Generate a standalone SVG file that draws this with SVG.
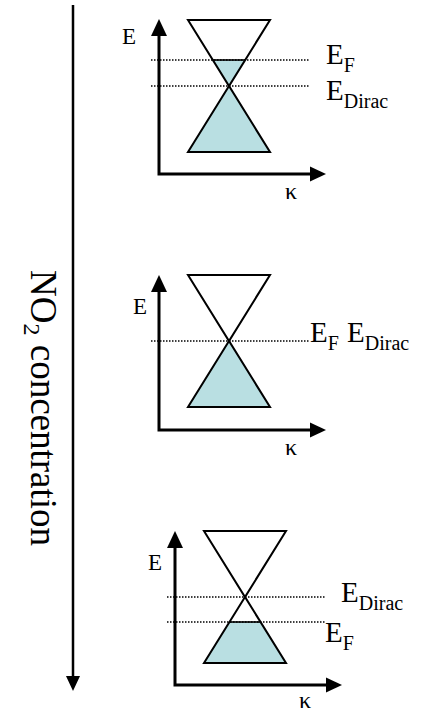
<svg xmlns="http://www.w3.org/2000/svg" width="435" height="713" viewBox="0 0 435 713">
<style>
  text { font-family: "Liberation Serif", "Times New Roman", "DejaVu Serif", serif; }
  .axis { fill: none; stroke: #000; stroke-width: 3; }
  .head { fill: #000; }
  .cone { fill: none; stroke: #000; stroke-width: 2; stroke-linejoin: miter; }
  .fill { fill: #b9dfe2; stroke: none; }
  .dot { stroke: #000; stroke-width: 1.3; stroke-dasharray: 1.5 1.5; fill: none; }
  .lvl { stroke: #000; stroke-width: 1.6; }
  .big { font-size: 29px; }
  .sub { font-size: 20px; }
  .ax { font-size: 23px; }
  .k { font-size: 24px; }
</style>
<rect width="435" height="713" fill="#fff"/>

<g id="connectors">
  <line x1="73" y1="5" x2="73" y2="677" stroke="#000" stroke-width="2.5"/>
  <polygon class="head" points="66,676 80,676 73,691"/>
</g>

<g id="concentration-label">
  <text transform="translate(30.7,270) rotate(90)" font-size="37">NO<tspan font-size="24" dy="7">2</tspan><tspan dy="-7"> concentration</tspan></text>
</g>

<g id="panel1">
  <polygon class="fill" points="188,152 270,152 229,86"/>
  <polygon class="fill" points="229,86 213,60 245,60"/>
  <line class="dot" x1="151" y1="60" x2="310" y2="60"/>
  <line class="dot" x1="151" y1="86" x2="310" y2="86"/>
  <line class="lvl" x1="213" y1="60" x2="245" y2="60"/>
  <polygon class="cone" points="188,20 270,20 229,86"/>
  <polygon class="cone" points="229,86 188,152 270,152"/>
  <path class="axis" d="M159,35 V174 H311"/>
  <polygon class="head" points="151,36 167,36 159,19"/>
  <polygon class="head" points="310,166.5 310,181.5 326,174"/>
  <text class="ax" x="122" y="44">E</text>
  <text class="k" x="285" y="199">κ</text>
  <text class="big" x="326" y="64">E<tspan class="sub" dy="8">F</tspan></text>
  <text class="big" x="326" y="100">E<tspan class="sub" dy="8">Dirac</tspan></text>
</g>

<g id="panel2">
  <polygon class="fill" points="188,407 270,407 229,341"/>
  <line class="dot" x1="151" y1="341" x2="310" y2="341"/>
  <polygon class="cone" points="188,275 270,275 229,341"/>
  <polygon class="cone" points="229,341 188,407 270,407"/>
  <path class="axis" d="M159,291 V430 H311"/>
  <polygon class="head" points="151,292 167,292 159,275"/>
  <polygon class="head" points="310,422.5 310,437.5 326,430"/>
  <text class="ax" x="133" y="314" font-size="25">E</text>
  <text class="k" x="285" y="455">κ</text>
  <text class="big" x="310" y="342">E<tspan class="sub" dy="8">F</tspan></text>
  <text class="big" x="347" y="342">E<tspan class="sub" dy="8">Dirac</tspan></text>
</g>

<g id="panel3">
  <polygon class="fill" points="204,663 286,663 260.5,622 229.5,622"/>
  <line class="dot" x1="167" y1="597" x2="326" y2="597"/>
  <line class="dot" x1="167" y1="622" x2="326" y2="622"/>
  <line class="lvl" x1="229.5" y1="622" x2="260.5" y2="622"/>
  <polygon class="cone" points="204,531 286,531 245,597"/>
  <polygon class="cone" points="245,597 204,663 286,663"/>
  <path class="axis" d="M175,547 V685 H327"/>
  <polygon class="head" points="167,548 183,548 175,531"/>
  <polygon class="head" points="326,677.5 326,692.5 342,685"/>
  <text class="ax" x="148" y="570">E</text>
  <text class="k" x="299" y="708">κ</text>
  <text class="big" x="341" y="602">E<tspan class="sub" dy="8">Dirac</tspan></text>
  <text class="big" x="325" y="642">E<tspan class="sub" dy="8">F</tspan></text>
</g>
</svg>
